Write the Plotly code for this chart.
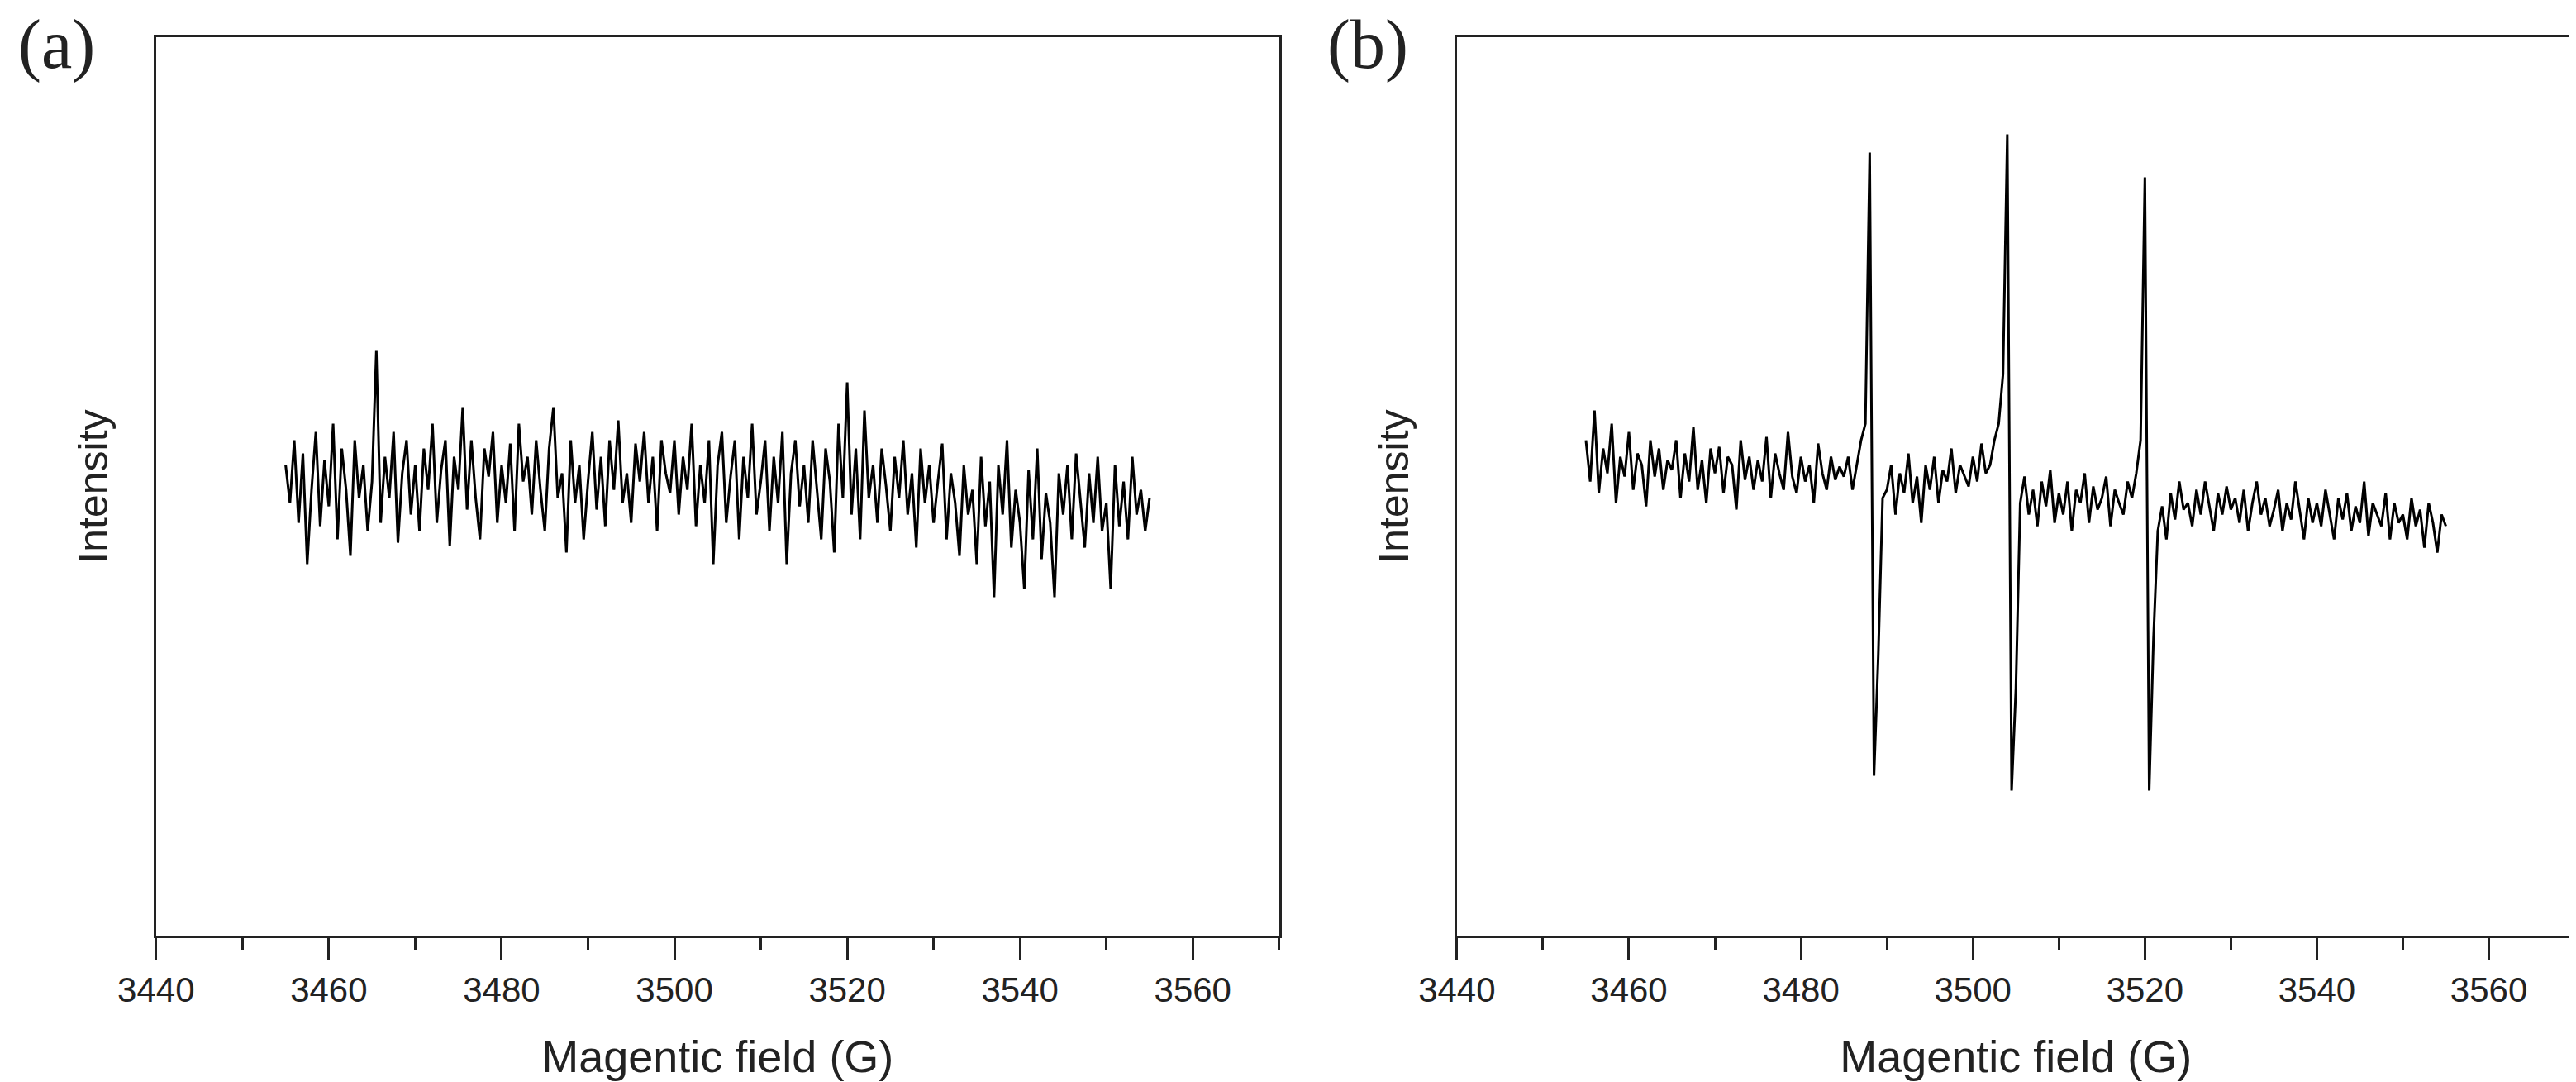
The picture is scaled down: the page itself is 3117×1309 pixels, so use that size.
import plotly.graph_objects as go

field = [3455 + 0.5 * i for i in range(201)]

intensity_a = [
285,262,300,250,292,225,270,305,248,288,
260,310,240,295,270,230,300,265,285,245,
275,354,250,290,265,305,238,280,300,255,
285,245,295,270,310,250,282,300,236,290,
270,320,258,300,265,240,295,278,305,250,
285,262,298,245,310,275,290,255,300,270,
245,295,320,265,280,232,300,262,285,240,
275,305,258,290,248,300,270,312,262,280,
250,298,275,305,262,290,245,300,280,268,
300,255,290,270,310,248,285,262,300,225,
285,305,250,278,300,240,290,265,310,255,
275,300,245,290,262,305,225,280,300,260,
285,250,300,268,240,295,275,232,310,265,
335,255,295,240,318,265,285,250,295,272,
245,290,265,300,255,280,235,295,262,285,
250,275,298,240,280,262,230,285,255,270,
225,290,248,275,205,285,255,300,235,270,
250,210,282,240,295,228,268,250,205,280,
255,285,240,292,265,235,280,250,290,245,
262,210,285,248,275,240,290,255,270,245,
265]

intensity_b = [
300,275,318,268,295,280,310,262,290,278,
305,270,292,285,260,300,278,295,270,288,
282,300,265,292,275,308,270,288,262,295,
280,296,268,290,285,258,300,276,290,270,
288,275,302,265,292,280,270,305,278,268,
290,275,285,262,298,280,270,290,276,284,
278,290,270,285,300,310,474,97,170,265,
270,285,255,280,268,292,262,278,250,285,
270,290,262,282,275,295,268,285,278,272,
290,275,298,280,285,300,310,340,485,88,
150,262,278,255,270,248,275,260,282,250,
268,255,275,245,270,262,280,250,272,258,
265,278,248,270,262,255,275,265,280,300,
459,88,180,245,260,240,268,252,275,258,
262,248,270,255,275,260,245,268,255,272,
258,265,250,270,245,262,275,255,265,248,
258,270,245,262,252,275,258,240,265,250,
262,248,270,255,240,265,252,268,245,260,
250,275,242,262,255,248,268,240,262,250,
255,240,265,248,258,235,262,250,232,255,
248]

x_ticks = [3440, 3460, 3480, 3500, 3520, 3540, 3560]
panel_labels = ["(a)", "(b)"]
x_title = "Magentic field (G)"
y_title = "Intensity"

fig = go.Figure()
fig.add_trace(go.Scatter(x=field, y=intensity_a, mode="lines",
                         line=dict(color="black", width=3), xaxis="x", yaxis="y", showlegend=False))
fig.add_trace(go.Scatter(x=field, y=intensity_b, mode="lines",
                         line=dict(color="black", width=3), xaxis="x2", yaxis="y2", showlegend=False))

font = dict(family="Liberation Sans, Arial", color="#222")
xcommon = dict(range=[3440, 3570], tickvals=x_ticks, ticks="outside", ticklen=26, tickwidth=2.5,
               tickcolor="#222", showline=True, linecolor="#222", linewidth=3, mirror=True,
               showgrid=False, zeroline=False, tickfont=dict(size=42, **font), automargin=False,
               minor=dict(dtick=10, ticks="outside", ticklen=14, tickwidth=2.5, tickcolor="#222"),
               title=dict(text=x_title, font=dict(size=54, **font), standoff=40))
ycommon = dict(range=[0, 544], showticklabels=False, ticks="", showline=True, linecolor="#222",
               linewidth=3, mirror=True, showgrid=False, zeroline=False, automargin=False,
               title=dict(text=y_title, font=dict(size=50, **font), standoff=40))

fig.update_layout(
    width=3117, height=1309, plot_bgcolor="white", paper_bgcolor="white",
    margin=dict(l=0, r=0, t=0, b=0),
    xaxis=dict(domain=[0.058, 0.494], anchor="y", **xcommon),
    yaxis=dict(domain=[0.141, 0.972], anchor="x", **ycommon),
    xaxis2=dict(domain=[0.563, 0.997], anchor="y2", **xcommon),
    yaxis2=dict(domain=[0.141, 0.972], anchor="x2", **ycommon),
    annotations=[
        dict(text=panel_labels[0], x=0.004, y=0.965, xref="paper", yref="paper", xanchor="left",
             yanchor="middle", showarrow=False, font=dict(family="Liberation Serif", size=84, color="#222")),
        dict(text=panel_labels[1], x=0.512, y=0.965, xref="paper", yref="paper", xanchor="left",
             yanchor="middle", showarrow=False, font=dict(family="Liberation Serif", size=84, color="#222")),
    ],
)
fig.write_html("out.html")
